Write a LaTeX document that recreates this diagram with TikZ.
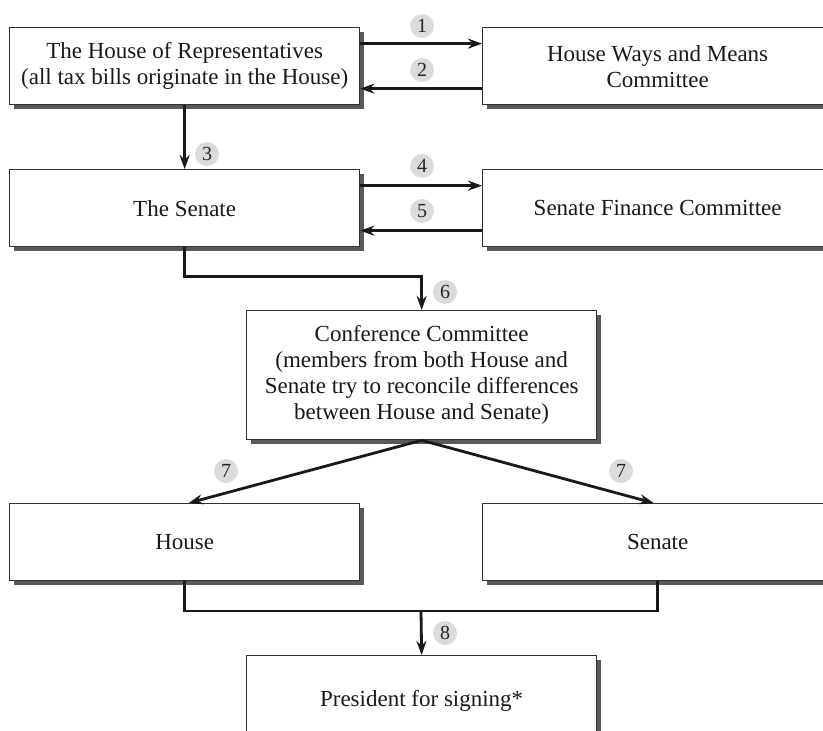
\documentclass[tikz,border=0pt]{standalone}
\usepackage{fontspec}
\setmainfont{Liberation Serif}
\usetikzlibrary{shadows,arrows.meta}
\begin{document}
\begin{tikzpicture}[x=1pt,y=-1pt,
  box/.style={draw=black!80, line width=1.3pt, fill=white, anchor=north west,
    minimum width=350pt, minimum height=77pt, inner sep=0pt, align=center,
    font=\fontsize{23}{26}\selectfont, text=black!90,
    drop shadow={shadow xshift=4pt, shadow yshift=-4pt, fill=black!65, opacity=1}},
  conn/.style={line width=2.8pt, draw=black!90, -{Stealth[length=14pt,width=10pt]}},
  link/.style={line width=2.8pt, draw=black!90},
  num/.style={circle, fill=black!14, minimum size=24pt, inner sep=0pt,
    font=\fontsize{20}{20}\selectfont, text=black!85}]
\useasboundingbox (0,0) rectangle (823,731);
\clip (0,0) rectangle (823,731);

% boxes
\node[box] (house)  at (9,27)   {The House of Representatives\\(all tax bills originate in the House)};
\node[box] (wm)     at (482,27) {House Ways and Means\\Committee};
\node[box] (senate) at (9,169)  {The Senate};
\node[box] (sfc)    at (482,169){Senate Finance Committee};
\node[box, minimum height=129pt] (conf) at (246,310)
  {Conference Committee\\(members from both House and\\Senate try to reconcile differences\\between House and Senate)};
\node[box] (hfin)   at (9,503)  {House};
\node[box] (sfin)   at (482,503){Senate};
\node[box, minimum height=90pt] (pres) at (246,655) {\raisebox{-12pt}{President for signing*}};

% step numbers
\node[num] at (422,26)  {1};
\node[num] at (422,70)  {2};
\node[num] at (207,154) {3};
\node[num] at (422,166) {4};
\node[num] at (422,211) {5};
\node[num] at (445,292) {6};
\node[num] at (226,471) {7};
\node[num] at (621,471) {7};
\node[num] at (445,633) {8};

% connectors
\draw[conn] ([yshift=22.5pt]house.east) -- ([yshift=22.5pt]wm.west);
\draw[conn] ([yshift=-22.5pt]wm.west) -- ([yshift=-22.5pt]house.east);
\draw[conn] (house.south) -- (senate.north);
\draw[conn] ([yshift=22.5pt]senate.east) -- ([yshift=22.5pt]sfc.west);
\draw[conn] ([yshift=-22.5pt]sfc.west) -- ([yshift=-22.5pt]senate.east);
\draw[conn] (senate.south) -- ++(0,29) -| (conf.north);
\draw[conn] (conf.south) -- ([xshift=4pt]hfin.north);
\draw[conn] (conf.south) -- ([xshift=-4pt]sfin.north);
\coordinate (join) at (421,611);
\draw[link] (hfin.south) |- (join) -| (sfin.south);
\draw[conn] (join) -- (pres.north);
\end{tikzpicture}
\end{document}
